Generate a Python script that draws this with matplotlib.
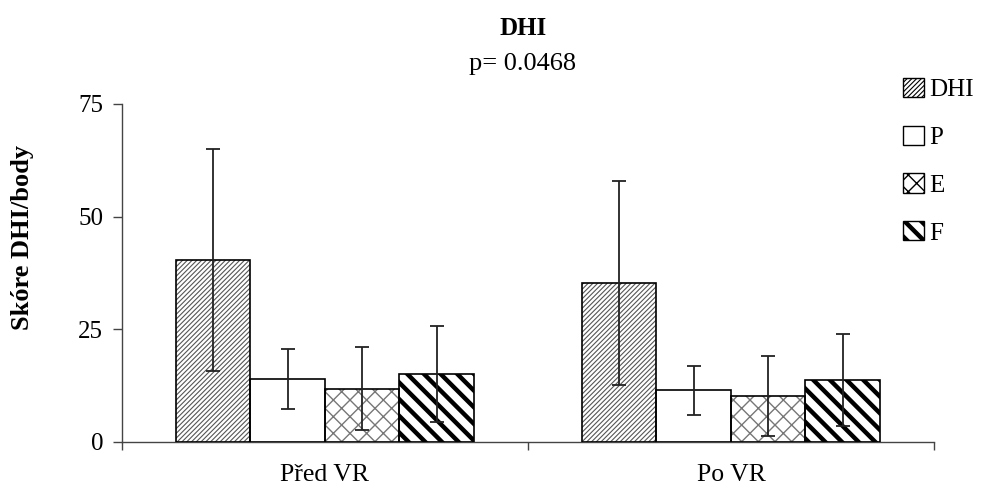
import matplotlib
matplotlib.use('Agg')
import matplotlib.pyplot as plt
from matplotlib.patches import Patch
import numpy as np

# data
groups = ['Před VR', 'Po VR']
series = ['DHI', 'P', 'E', 'F']
dhi_mean = [40.4, 35.3]
p_mean = [13.9, 11.4]
e_mean = [11.8, 10.1]
f_mean = [15.0, 13.7]
dhi_err = [24.6, 22.7]
p_err = [6.6, 5.5]
e_err = [9.2, 8.9]
f_err = [10.6, 10.2]

means = [dhi_mean, p_mean, e_mean, f_mean]
errs = [dhi_err, p_err, e_err, f_err]

# look of each series
hatches = ['/' * 7, '', 'xx', '\\\\']
hatch_cols = ['#555555', 'black', '#777777', 'black']
hatch_lw = [0.8, 1.0, 1.0, 3.2]

plt.rcParams['font.family'] = ['Liberation Serif', 'DejaVu Serif']

fig = plt.figure(figsize=(9.9, 4.9), dpi=100)
ax = fig.add_axes([0.1232, 0.0986, 0.8202, 0.6892])

x = np.arange(len(groups))
w = 0.1835
for i, name in enumerate(series):
    pos = x + (i - 1.5) * w
    with plt.rc_context({'hatch.linewidth': hatch_lw[i]}):
        # hatch layer
        ax.bar(pos, means[i], width=w, color='white', edgecolor=hatch_cols[i],
               linewidth=0, hatch=hatches[i], zorder=2)
        # outline
        ax.bar(pos, means[i], width=w, color='none', edgecolor='black',
               linewidth=1.2, zorder=3)
    ax.errorbar(pos, means[i], yerr=errs[i], fmt='none', ecolor='#222222',
                elinewidth=1.3, capsize=4.7, capthick=1.3, zorder=4)

ax.set_xlim(-0.5, 1.5)
ax.set_ylim(0, 75)
ax.set_yticks([0, 25, 50, 75])
ax.tick_params(axis='y', direction='out', length=6.5, width=1, labelsize=18, pad=7,
               color='#444444')
ax.set_xticks([-0.5, 0.5, 1.5])
ax.set_xticklabels([])
ax.tick_params(axis='x', which='major', direction='out', length=6, width=1, color='#444444')
ax.set_xticks(x, minor=True)
ax.set_xticklabels(groups, minor=True, fontsize=18.5)
ax.tick_params(axis='x', which='minor', length=0, pad=16)
for s in ['top', 'right']:
    ax.spines[s].set_visible(False)
for s in ['left', 'bottom']:
    ax.spines[s].set_color('#444444')
    ax.spines[s].set_linewidth(1.0)

fig.text(23 / 990, 1 - 237 / 490, 'Skóre DHI/body', rotation=90, ha='center', va='center',
         fontsize=19, fontweight='bold')
fig.text(523 / 990, 1 - 35 / 490, 'DHI', ha='center', va='baseline', fontsize=18,
         fontweight='bold')
fig.text(523 / 990, 1 - 70 / 490, 'p= 0.0468', ha='center', va='baseline', fontsize=19)

handles = []
for i, name in enumerate(series):
    handles.append(Patch(facecolor='white', edgecolor='black', hatch=hatches[i],
                         linewidth=1.0))
leg = fig.legend(handles, series, loc='upper left', bbox_to_anchor=(903 / 990, 1 - 78 / 490),
                 frameon=False, fontsize=18, handlelength=0.85, handleheight=0.8,
                 handletextpad=0.2, labelspacing=0.98, borderaxespad=0, borderpad=0)
for p, lw in zip(leg.get_patches(), hatch_lw):
    if hasattr(p, 'set_hatch_linewidth'):
        p.set_hatch_linewidth(lw)
    else:
        p._hatch_linewidth = lw

fig.savefig('out.png', dpi=100)
